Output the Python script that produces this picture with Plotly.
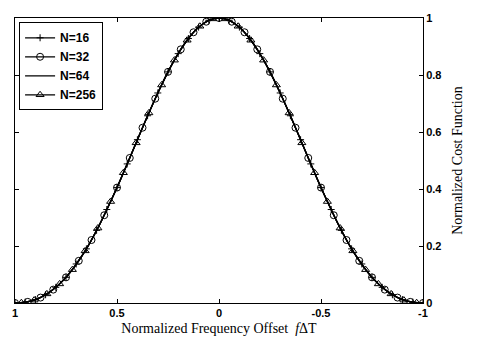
import plotly.graph_objects as go

# Normalized frequency offset grid and cost values
f_16 = [1.0, 0.95, 0.9, 0.85, 0.8, 0.75, 0.7, 0.65, 0.6, 0.55, 0.5, 0.45, 0.4, 0.35, 0.3, 0.25, 0.2, 0.15, 0.1, 0.05, 0.0,
        -0.05, -0.1, -0.15, -0.2, -0.25, -0.3, -0.35, -0.4, -0.45, -0.5, -0.55, -0.6, -0.65, -0.7, -0.75, -0.8, -0.85, -0.9, -0.95, -1.0]
y_16 = [0.0, 0.003, 0.012, 0.029, 0.055, 0.090, 0.137, 0.190, 0.255, 0.328, 0.405, 0.488, 0.573, 0.657, 0.737, 0.811, 0.875, 0.928, 0.968, 0.992, 1.0,
        0.992, 0.968, 0.928, 0.875, 0.811, 0.737, 0.657, 0.573, 0.488, 0.405, 0.328, 0.255, 0.190, 0.137, 0.090, 0.055, 0.029, 0.012, 0.003, 0.0]

f_32 = [1.0, 0.9375, 0.875, 0.8125, 0.75, 0.6875, 0.625, 0.5625, 0.5, 0.4375, 0.375, 0.3125, 0.25, 0.1875, 0.125, 0.0625, 0.0,
        -0.0625, -0.125, -0.1875, -0.25, -0.3125, -0.375, -0.4375, -0.5, -0.5625, -0.625, -0.6875, -0.75, -0.8125, -0.875, -0.9375, -1.0]
y_32 = [0.0, 0.004, 0.019, 0.047, 0.090, 0.148, 0.221, 0.308, 0.405, 0.509, 0.615, 0.717, 0.811, 0.890, 0.950, 0.987, 1.0,
        0.987, 0.950, 0.890, 0.811, 0.717, 0.615, 0.509, 0.405, 0.308, 0.221, 0.148, 0.090, 0.047, 0.019, 0.004, 0.0]

f_64 = f_16
y_64 = [0.0, 0.003, 0.012, 0.029, 0.055, 0.090, 0.137, 0.190, 0.255, 0.328, 0.405, 0.488, 0.573, 0.657, 0.737, 0.811, 0.875, 0.928, 0.968, 0.992, 1.0,
        0.992, 0.968, 0.928, 0.875, 0.811, 0.737, 0.657, 0.573, 0.488, 0.405, 0.328, 0.255, 0.190, 0.137, 0.090, 0.055, 0.029, 0.012, 0.003, 0.0]

f_256 = [0.96875, 0.90625, 0.84375, 0.78125, 0.71875, 0.65625, 0.59375, 0.53125, 0.46875, 0.40625, 0.34375, 0.28125, 0.21875, 0.15625, 0.09375, 0.03125,
         -0.03125, -0.09375, -0.15625, -0.21875, -0.28125, -0.34375, -0.40625, -0.46875, -0.53125, -0.59375, -0.65625, -0.71875, -0.78125, -0.84375, -0.90625, -0.96875]
y_256 = [0.001, 0.010, 0.032, 0.067, 0.117, 0.183, 0.263, 0.356, 0.457, 0.562, 0.667, 0.765, 0.852, 0.922, 0.971, 0.997,
         0.997, 0.971, 0.922, 0.852, 0.765, 0.667, 0.562, 0.457, 0.356, 0.263, 0.183, 0.117, 0.067, 0.032, 0.010, 0.001]

x_tickvals = [1, 0.5, 0, -0.5, -1]
x_ticktext = ["1", "0.5", "0", "-0.5", "-1"]
y_tickvals = [0, 0.2, 0.4, 0.6, 0.8, 1]
y_ticktext = ["0", "0.2", "0.4", "0.6", "0.8", "1"]

fig = go.Figure()
fig.add_trace(go.Scatter(x=f_16, y=y_16, name="N=16", mode="lines+markers", line=dict(color="black", width=1.3, shape="spline"),
                         marker=dict(symbol="cross-thin-open", size=5, line=dict(color="black", width=1))))
fig.add_trace(go.Scatter(x=f_32, y=y_32, name="N=32", mode="lines+markers", line=dict(color="black", width=1.3, shape="spline"),
                         marker=dict(symbol="circle-open", size=7, color="black", line=dict(width=1))))
fig.add_trace(go.Scatter(x=f_64, y=y_64, name="N=64", mode="lines", line=dict(color="black", width=1.3, shape="spline")))
fig.add_trace(go.Scatter(x=f_256, y=y_256, name="N=256", mode="lines+markers", line=dict(color="black", width=1.3, shape="spline"),
                         marker=dict(symbol="triangle-up-open", size=7, color="black", line=dict(width=1))))

tickfont = dict(family="Liberation Sans", size=11, color="black", weight="bold")
fig.update_layout(
    width=481, height=345,
    margin=dict(l=12, r=58, t=12, b=42),
    paper_bgcolor="white", plot_bgcolor="white",
    showlegend=True,
    legend=dict(x=0.01, y=0.985, xanchor="left", yanchor="top", bordercolor="black", borderwidth=1,
                bgcolor="white", font=dict(family="Liberation Sans", size=12, color="black", weight="bold"),
                tracegroupgap=0, itemwidth=30),
    xaxis=dict(range=[1, -1], tickvals=x_tickvals, ticktext=x_ticktext, tickfont=tickfont,
               showline=True, linecolor="black", linewidth=1, mirror="ticks", ticks="inside", ticklen=4,
               tickcolor="black", showgrid=False, zeroline=False,
               title=dict(text="Normalized Frequency Offset  <i>f</i>ΔT", standoff=4,
                          font=dict(family="Liberation Serif", size=14, color="black"))),
    yaxis=dict(range=[0, 1], side="right", tickvals=y_tickvals, ticktext=y_ticktext, tickfont=tickfont,
               showline=True, linecolor="black", linewidth=1, mirror="ticks", ticks="inside", ticklen=4,
               tickcolor="black", showgrid=False, zeroline=False,
               title=dict(text="Normalized Cost Function", standoff=10,
                          font=dict(family="Liberation Serif", size=14, color="black"))),
)

fig.write_html("out.html")
